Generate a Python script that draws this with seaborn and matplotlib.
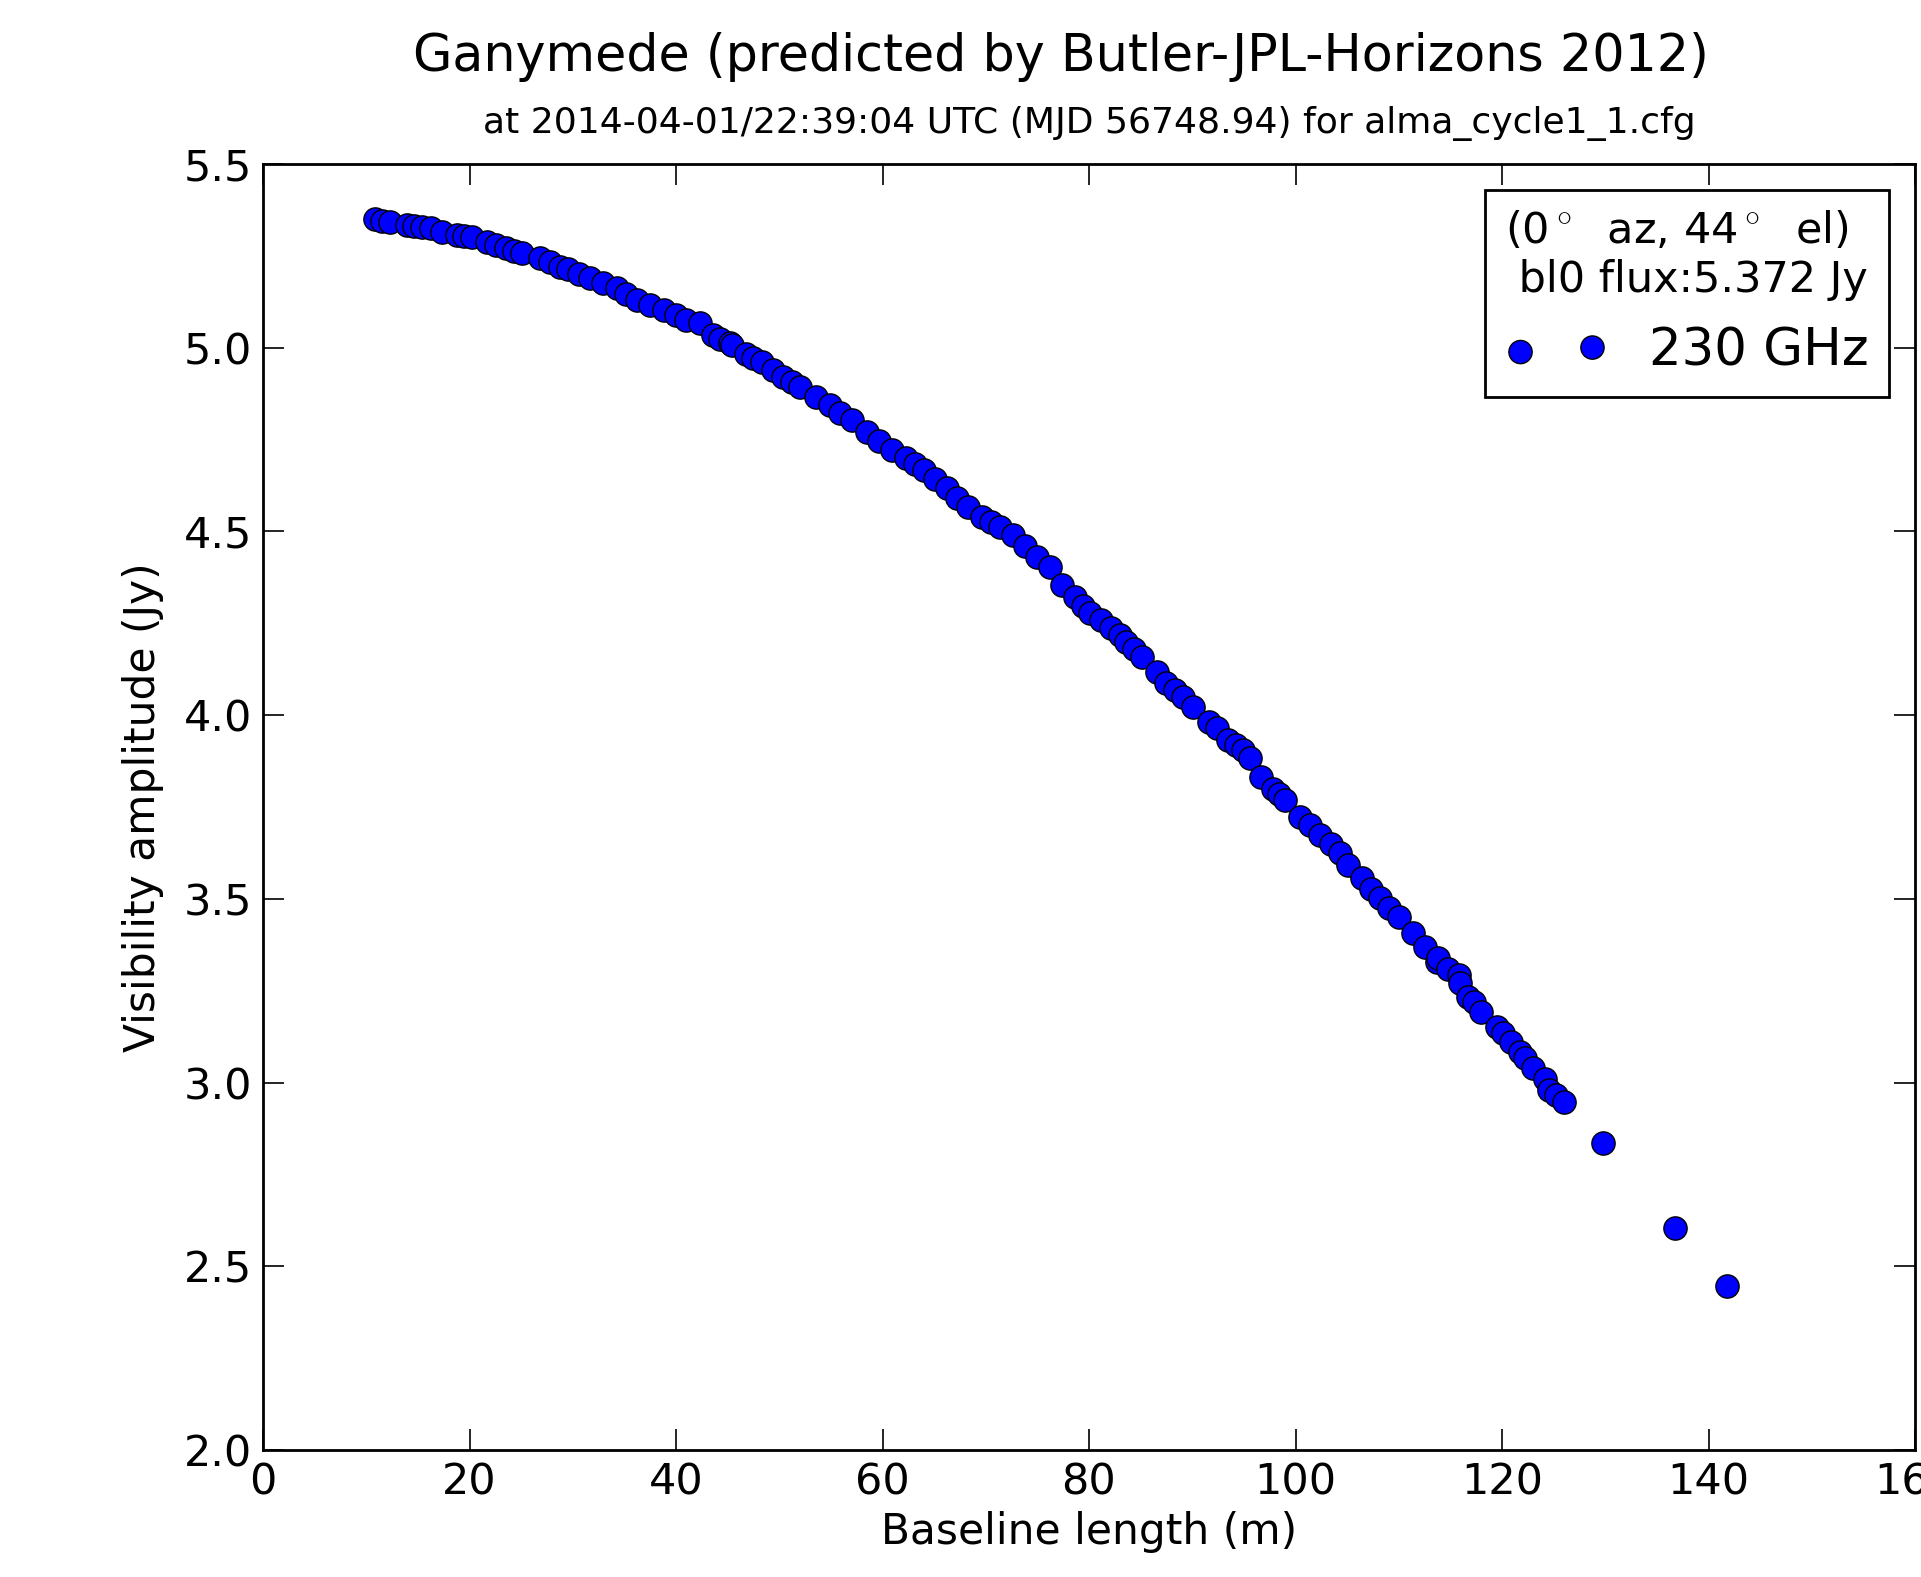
import numpy as np
import pandas as pd
import matplotlib
matplotlib.use("Agg")
import matplotlib.pyplot as plt
import seaborn as sns

# Baseline length (m) and visibility amplitude (Jy)
baseline_m = [
    10.85, 11.5, 12.3, 13.9, 14.6, 15.4, 16.3, 17.3, 18.8, 19.5, 20.2, 21.7,
    22.6, 23.5, 24.3, 25.1, 26.8, 27.8, 28.8, 29.5, 30.6, 31.7, 32.9, 34.3,
    35.2, 36.2, 37.5, 38.8, 40.0, 41.0, 42.3, 43.6, 44.3, 45.2, 45.4, 46.8,
    47.5, 48.3, 49.4, 50.4, 51.2, 52.0, 53.6, 54.9, 55.9, 57.0, 58.5, 59.7,
    60.9, 62.3, 63.1, 64.0, 65.1, 66.2, 67.2, 68.3, 69.6, 70.5, 71.4, 72.6,
    73.8, 75.0, 76.2, 77.4, 78.6, 79.4, 80.1, 81.2, 82.1, 83.0, 83.6, 84.4,
    85.1, 86.6, 87.5, 88.3, 89.1, 90.1, 91.6, 92.4, 93.5, 94.2, 94.9, 95.6,
    96.7, 97.8, 98.4, 99.0, 100.4, 101.4, 102.4, 103.4, 104.3, 105.1, 106.4,
    107.3, 108.2, 109.1, 110.0, 111.4, 112.5, 113.7, 113.8, 114.8, 115.8,
    115.9, 116.7, 117.3, 118.0, 119.5, 120.1, 120.9, 121.7, 122.2, 123.0,
    124.2, 124.6, 125.2, 126.0, 129.8, 136.8, 141.8,
]
visibility_jy = [
    5.349, 5.346, 5.343, 5.334, 5.331, 5.328, 5.325, 5.316, 5.307, 5.304, 5.302, 5.289,
    5.280, 5.271, 5.264, 5.257, 5.243, 5.232, 5.220, 5.213, 5.200, 5.189, 5.176, 5.162,
    5.147, 5.130, 5.117, 5.103, 5.088, 5.075, 5.066, 5.035, 5.025, 5.012, 5.007, 4.982,
    4.972, 4.962, 4.940, 4.921, 4.908, 4.894, 4.867, 4.844, 4.823, 4.803, 4.771, 4.747,
    4.722, 4.699, 4.683, 4.667, 4.642, 4.617, 4.592, 4.567, 4.540, 4.527, 4.513, 4.490,
    4.460, 4.430, 4.404, 4.354, 4.322, 4.297, 4.277, 4.259, 4.238, 4.218, 4.200, 4.180,
    4.159, 4.118, 4.087, 4.068, 4.050, 4.023, 3.982, 3.964, 3.932, 3.918, 3.905, 3.882,
    3.832, 3.800, 3.785, 3.769, 3.723, 3.700, 3.674, 3.649, 3.624, 3.592, 3.556,
    3.528, 3.501, 3.476, 3.450, 3.406, 3.370, 3.329, 3.338, 3.310, 3.293,
    3.270, 3.234, 3.218, 3.193, 3.152, 3.134, 3.110, 3.084, 3.066, 3.040,
    3.011, 2.980, 2.965, 2.946, 2.835, 2.605, 2.447,
]

x_ticks = [0, 20, 40, 60, 80, 100, 120, 140, 160]
y_ticks = [2.0, 2.5, 3.0, 3.5, 4.0, 4.5, 5.0, 5.5]

title_main = "Ganymede (predicted by Butler-JPL-Horizons 2012)"
title_sub = "at 2014-04-01/22:39:04 UTC (MJD 56748.94) for alma_cycle1_1.cfg"
legend_title = "(0$^\\circ$  az, 44$^\\circ$  el)\n bl0 flux:5.372 Jy"
series_label = "230 GHz"

df = pd.DataFrame({"Baseline length (m)": baseline_m,
                   "Visibility amplitude (Jy)": visibility_jy})

sns.set_style("ticks", {"xtick.direction": "in", "ytick.direction": "in",
                        "axes.edgecolor": "black"})
plt.rcParams["font.family"] = ["DejaVu Sans"]
plt.rcParams["mathtext.fontset"] = "cm"
plt.rcParams["text.color"] = "black"
plt.rcParams["axes.labelcolor"] = "black"
plt.rcParams["xtick.color"] = "black"
plt.rcParams["ytick.color"] = "black"

fig = plt.figure(figsize=(19.21, 15.77), dpi=100)
ax = fig.add_axes([263 / 1921, 1 - 1450 / 1577, 1652 / 1921, 1286 / 1577])

sns.scatterplot(data=df, x="Baseline length (m)", y="Visibility amplitude (Jy)",
                color="blue", edgecolor="black", linewidth=1.0, s=280,
                label=series_label, ax=ax, zorder=3)

ax.set_xlim(0, 160)
ax.set_ylim(2.0, 5.5)
ax.set_xticks(x_ticks)
ax.set_xticklabels([str(t) for t in x_ticks])
ax.set_yticks(y_ticks)
ax.set_yticklabels([f"{t:.1f}" for t in y_ticks])
ax.tick_params(axis="both", which="major", direction="in", length=15, width=1.2,
               labelsize=31, top=True, right=True, colors="black", pad=8)
for sp in ax.spines.values():
    sp.set_visible(True)
    sp.set_linewidth(2.0)
    sp.set_color("black")

ax.set_xlabel("Baseline length (m)", fontsize=30.5, labelpad=6)
ax.set_ylabel("Visibility amplitude (Jy)", fontsize=30.5, labelpad=14)
ax.set_title(title_sub, fontsize=26, pad=22)
fig.text(1061 / 1921, 1 - 57 / 1577, title_main, fontsize=36.5,
         ha="center", va="center")

leg = ax.legend(title=legend_title, title_fontsize=31, fontsize=37,
                loc="upper right", scatterpoints=2, frameon=True,
                fancybox=False, edgecolor="black", framealpha=1,
                alignment="left", borderaxespad=0.5, handletextpad=0.8,
                handlelength=2.0, borderpad=0.4)
leg.get_title().set_multialignment("left")
leg.get_frame().set_linewidth(2.0)

fig.savefig("out.png", dpi=100, facecolor="white")
